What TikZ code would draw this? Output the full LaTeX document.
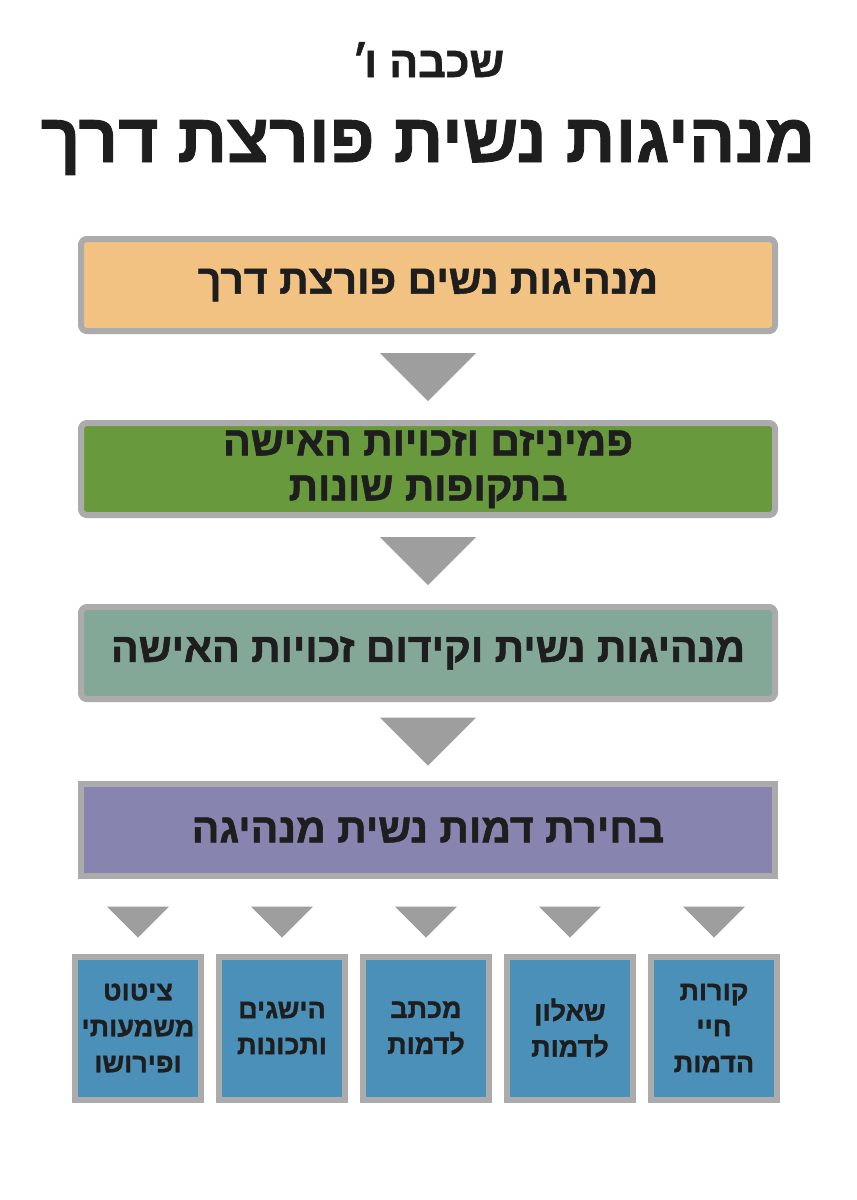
\documentclass[tikz,border=0pt]{standalone}
\usepackage{fontspec}
\usetikzlibrary{positioning,calc}
\TeXXeTstate=1
\newfontfamily\hebfont[Script=Hebrew, BoldFeatures={FakeBold=1.3}]{Liberation Sans}
\definecolor{StageOrange}{HTML}{F1C282}
\definecolor{StageGreen}{HTML}{68993D}
\definecolor{StageSage}{HTML}{84A897}
\definecolor{StagePurple}{HTML}{8784B0}
\definecolor{TaskBlue}{HTML}{4A90B9}
\definecolor{FrameGray}{HTML}{ABABAB}
\definecolor{ArrowGray}{HTML}{9E9E9E}
\definecolor{InkBlack}{HTML}{1E1E1E}
\newcommand{\heb}[1]{\beginR#1\endR}

\begin{document}
\begin{tikzpicture}[x=1pt, y=1pt,
  node distance=92pt,
  stagebox/.style={draw=FrameGray, line width=6pt, rounded corners=6pt,
    minimum width=694pt, minimum height=92pt, outer sep=0pt, align=center,
    text=InkBlack, font=\hebfont\bfseries\fontsize{41}{45}\selectfont},
  taskbox/.style={draw=FrameGray, line width=6pt, minimum width=126pt,
    minimum height=143pt, outer sep=0pt, fill=TaskBlue, align=center,
    text=InkBlack, font=\hebfont\bfseries\fontsize{27}{36}\selectfont},
  arrowtri/.style={fill=ArrowGray}
]
\useasboundingbox (0,0) rectangle (857,-1200);
% headings
\node[anchor=base, text=InkBlack, font=\hebfont\bfseries\fontsize{43}{46}\selectfont] (grade) at (428,-77) {\heb{שכבה ו\kern-5pt׳}};
\node[anchor=base, text=InkBlack, font=\hebfont\bfseries\fontsize{69}{74}\selectfont] (title) at (428,-162) {\heb{מנהיגות נשית פורצת דרך}};
% main stages
\node[stagebox, fill=StageOrange] (org) at (428,-285) {\heb{מנהיגות נשים פורצת דרך}};
\node[stagebox, fill=StageGreen, below=of org] (fem) {\heb{פמיניזם וזכויות האישה}\\\heb{בתקופות שונות}};
\node[stagebox, fill=StageSage, below=of fem] (lead) {\heb{מנהיגות נשית וקידום זכויות האישה}};
\node[stagebox, fill=StagePurple, sharp corners, below=85pt of lead] (pick) {\heb{בחירת דמות נשית מנהיגה}};
\foreach \upper/\lower in {org/fem, fem/lead, lead/pick}
  \fill[arrowtri] ($(\upper.south)!0.5!(\lower.north)+(-48,24)$) -- ++(96,0) -- ++(-48,-48) -- cycle;
% tasks, right to left
\node[taskbox] (life) at (714,-1028) {\heb{קורות}\\\heb{חיי}\\\heb{הדמות}};
\node[taskbox, left=18pt of life] (quiz) {\heb{שאלון}\\\heb{לדמות}};
\node[taskbox, left=18pt of quiz] (letter) {\heb{מכתב}\\\heb{לדמות}};
\node[taskbox, left=18pt of letter] (deeds) {\heb{הישגים}\\\heb{ותכונות}};
\node[taskbox, left=18pt of deeds] (quote) {\heb{ציטוט}\\\heb{משמעותי}\\\heb{ופירושו}};
\foreach \task in {life, quiz, letter, deeds, quote}
  \fill[arrowtri] ($(\task.north)+(-31,50)$) -- ++(62,0) -- ++(-31,-31) -- cycle;
\end{tikzpicture}
\end{document}
